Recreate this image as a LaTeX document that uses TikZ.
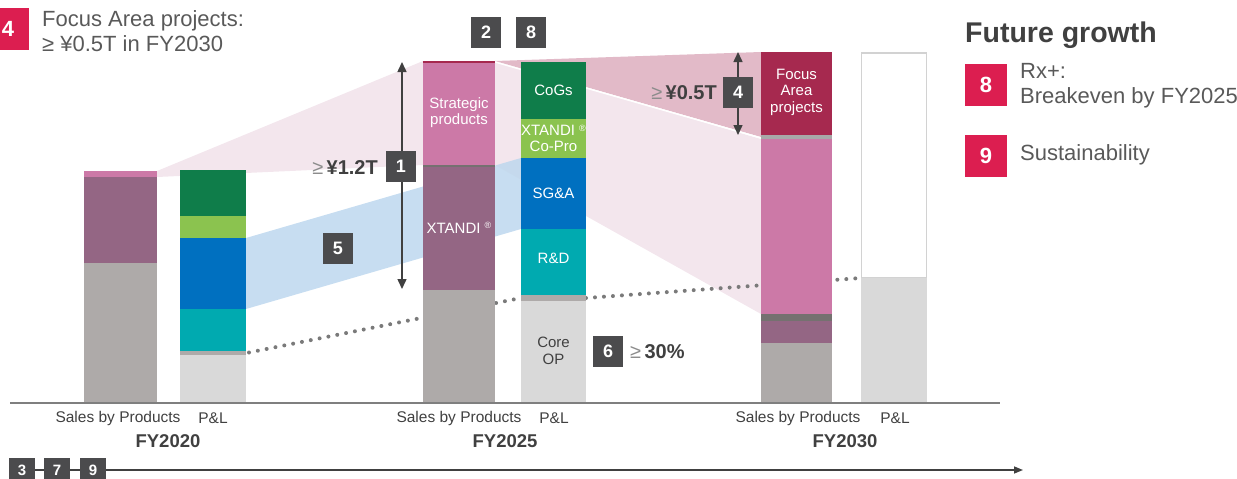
\documentclass[tikz,border=0pt]{standalone}
\usepackage{fontspec}
\setmainfont{Liberation Sans}
\usetikzlibrary{arrows.meta}
\definecolor{sgray}{HTML}{AEAAA9}
\definecolor{xpurple}{HTML}{946684}
\definecolor{spink}{HTML}{CC79A7}
\definecolor{focus}{HTML}{A6294F}
\definecolor{sep}{HTML}{757170}
\definecolor{sepl}{HTML}{A8A8A8}
\definecolor{cogs}{HTML}{0F7D4A}
\definecolor{lgreen}{HTML}{8BC34F}
\definecolor{sgablue}{HTML}{0070C0}
\definecolor{teal}{HTML}{00AAB0}
\definecolor{lgray}{HTML}{D9D9D9}
\definecolor{ribpink}{HTML}{F3E6ED}
\definecolor{ribdark}{HTML}{E2BAC8}
\definecolor{ribblue}{HTML}{BDD7EE}
\definecolor{redbadge}{HTML}{DC1E50}
\definecolor{darkbadge}{HTML}{4B4B4D}
\definecolor{txt}{HTML}{404040}
\definecolor{txtb}{HTML}{595959}
\definecolor{geqc}{HTML}{8C8C8C}
\definecolor{outl}{HTML}{D2D2D2}
\definecolor{dotc}{HTML}{7A7A7A}
\definecolor{axisc}{HTML}{7F7F7F}
\begin{document}
\begin{tikzpicture}[x=1pt,y=-1pt,
  lbl/.style={font=\fontsize{15.5}{17}\selectfont, text=txt, inner sep=0pt},
  inbar/.style={font=\fontsize{15}{16.5}\selectfont, text=white, align=center, inner sep=0pt},
  fylbl/.style={font=\bfseries\fontsize{18.5}{20}\selectfont, text=txt, inner sep=0pt},
  dbadge/.style={fill=darkbadge, text=white, font=\bfseries\fontsize{18}{20}\selectfont, minimum width=30pt, minimum height=31pt, inner sep=0pt},
  tbadge/.style={dbadge, minimum width=26pt, minimum height=24pt, font=\bfseries\fontsize{15}{16}\selectfont},
  rbadge/.style={fill=redbadge, text=white, font=\bfseries\fontsize{22}{24}\selectfont, minimum width=42pt, minimum height=42pt, inner sep=0pt},
  biglbl/.style={font=\bfseries\fontsize{20}{22}\selectfont, text=txt, inner sep=0pt},
  body/.style={font=\fontsize{22}{25}\selectfont, text=txtb, align=left, inner sep=0pt},
  dotline/.style={draw=dotc, line width=4pt, line cap=round, dash pattern=on 0pt off 9pt},
  darr/.style={draw=txt, line width=1.5pt, {Triangle[length=10pt,width=9pt]}-{Triangle[length=10pt,width=9pt]}},
  tline/.style={draw=txt, line width=1.5pt}
]
\useasboundingbox (0,0) rectangle (1237,479);

% ribbons
\fill[ribpink] (157,171) -- (423,61) -- (423,165) -- (157,177) -- cycle;
\fill[ribpink] (495,61) -- (761,139) -- (761,314) -- (495,165) -- cycle;
\fill[ribdark] (495,61) -- (761,52) -- (761,137) -- cycle;
\draw[white, line width=1.5pt] (495,62) -- (761,138);
\fill[ribblue, fill opacity=0.85] (246,238) -- (521,158) -- (521,229) -- (246,309) -- cycle;

% dotted lines
\coordinate (d1s) at (249,352.5);
\coordinate (d1e) at (521,298);
\coordinate (d2s) at (586,298);
\coordinate (d2e) at (861,278);
\draw[dotline] (d1s) -- (d1e);
\draw[dotline] (d2s) -- (d2e);

% FY2020 sales
\fill[spink] (84,171) rectangle (157,177);
\fill[xpurple] (84,177) rectangle (157,263);
\fill[sgray] (84,263) rectangle (157,403);
% FY2020 P&L
\fill[cogs] (180,170) rectangle (246,216);
\fill[lgreen] (180,216) rectangle (246,238);
\fill[sgablue] (180,238) rectangle (246,309);
\fill[teal] (180,309) rectangle (246,351);
\fill[sgray] (180,351) rectangle (246,355);
\fill[lgray] (180,355) rectangle (246,403);

% FY2025 sales
\fill[focus] (423,61) rectangle (495,62.5);
\fill[spink] (423,62.5) rectangle (495,165);
\fill[sep] (423,165) rectangle (495,167);
\fill[xpurple] (423,167) rectangle (495,290);
\fill[sgray] (423,290) rectangle (495,403);
% FY2025 P&L
\fill[cogs] (521,62) rectangle (586,119);
\fill[lgreen] (521,119) rectangle (586,158);
\fill[sgablue] (521,158) rectangle (586,229);
\fill[teal] (521,229) rectangle (586,295);
\fill[sgray] (521,295) rectangle (586,301);
\fill[lgray] (521,301) rectangle (586,403);

% FY2030 sales
\fill[focus] (761,52) rectangle (832,135);
\fill[sepl] (761,135) rectangle (832,139);
\fill[spink] (761,139) rectangle (832,314);
\fill[sep] (761,314) rectangle (832,321);
\fill[xpurple] (761,321) rectangle (832,343);
\fill[sgray] (761,343) rectangle (832,403);
% FY2030 P&L
\draw[outl, fill=white, line width=1.2pt] (861.6,53) rectangle (926.4,278);
\fill[lgray] (861,278) rectangle (927,403);

% axis
\coordinate (ax1) at (10,403);
\coordinate (ax2) at (1000,403);
\draw[axisc, line width=2pt] (ax1) -- (ax2);

% in-bar texts
\node[inbar] (tstrat) at (459,112.5) {Strategic\\products};
\node[inbar] (txt25) at (459,228) {XTANDI\ \raisebox{0.55ex}{\fontsize{9}{9}\selectfont ®}};
\node[inbar] (tcogs) at (553.5,90) {CoGs};
\node[inbar] (tcopro) at (553.5,138.5) {XTANDI\ \raisebox{0.55ex}{\fontsize{9}{9}\selectfont ®}\\Co-Pro};
\node[inbar] (tsga) at (553.5,193) {SG\&A};
\node[inbar] (trd) at (553.5,258) {R\&D};
\node[inbar, text=txt] (tcore) at (553.5,351) {Core\\OP};
\node[inbar] (tfocus) at (796.5,92) {Focus\\Area\\projects};

% arrows
\coordinate (a1t) at (402,62);
\coordinate (a1b) at (402,289);
\draw[darr] (a1t) -- (a1b);
\coordinate (a4t) at (738,52);
\coordinate (a4b) at (738,135);
\draw[darr] (a4t) -- (a4b);

% dark badges
\node[dbadge] (b1) at (401,166.5) {1};
\node[dbadge] (b5) at (338,248) {5};
\node[dbadge] (b4) at (738,92.5) {4};
\node[dbadge] (b2) at (486,32) {2};
\node[dbadge] (b8) at (531,32) {8};
\node[dbadge] (b6) at (608,351.5) {6};

% value labels
\node[biglbl, anchor=east] (v1) at (378,168) {{\mdseries\color{geqc}≥}\,¥1.2T};
\node[biglbl, anchor=east] (v4) at (717,93) {{\mdseries\color{geqc}≥}\,¥0.5T};
\node[biglbl, anchor=west] (v6) at (630,352) {{\mdseries\color{geqc}≥}\,30\%};

% bottom labels
\node[lbl] (sp20) at (118,418) {Sales by Products};
\node[lbl] (pl20) at (213,418) {P\&L};
\node[fylbl] (fy20) at (168,441) {FY2020};
\node[lbl] (sp25) at (459,418) {Sales by Products};
\node[lbl] (pl25) at (554,418) {P\&L};
\node[fylbl] (fy25) at (505,441) {FY2025};
\node[lbl] (sp30) at (798,418) {Sales by Products};
\node[lbl] (pl30) at (895,418) {P\&L};
\node[fylbl] (fy30) at (845,441) {FY2030};

% timeline
\coordinate (tly) at (0,470);
\coordinate (tlend) at (1023,470);
\node[tbadge] (b3) at (22,470) {3};
\node[tbadge] (b7) at (57,470) {7};
\node[tbadge] (b9) at (93,470) {9};
\draw[tline] (b3.east |- tly) -- (b7.west |- tly);
\draw[tline] (b7.east |- tly) -- (b9.west |- tly);
\draw[tline, -{Triangle[length=9pt,width=7pt]}] (b9.east |- tly) -- (tlend);

% top-left legend
\node[rbadge] (r4) at (8,29) {4};
\node[body, anchor=west] (tl4) at (42,31.5) {Focus Area projects:\\≥ ¥0.5T in FY2030};

% right legend
\node[font=\bfseries\fontsize{28.5}{30}\selectfont, text=txt, inner sep=0pt, anchor=west] (fg) at (965,35) {Future growth};
\node[rbadge] (r8) at (986,84.5) {8};
\node[body, anchor=west] (t8) at (1020,85.5) {Rx+:\\Breakeven by FY2025};
\node[rbadge] (r9) at (986,156) {9};
\node[body, anchor=west] (t9) at (1020,155) {Sustainability};
\end{tikzpicture}
\end{document}
